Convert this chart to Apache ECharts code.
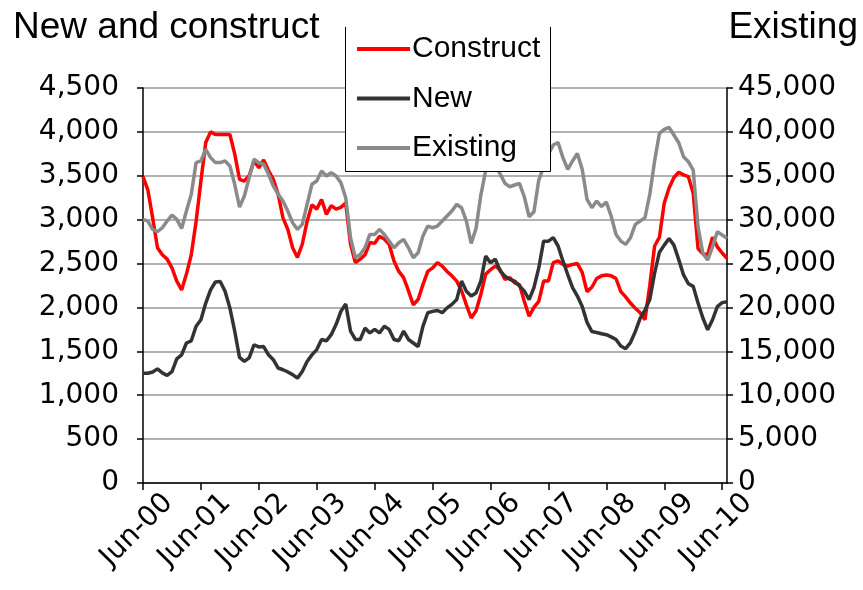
<!DOCTYPE html>
<html>
<head>
<meta charset="utf-8">
<script src="https://cdn.jsdelivr.net/npm/echarts@6/dist/echarts.min.js"></script>
<style>
  html, body { margin: 0; padding: 0; background: #fff; }
  #chart { width: 863px; height: 590px; }
</style>
</head>
<body>
<div id="chart"></div>
<script>
// monthly, Jun-00 .. Jul-10
const monthNames = ["Jun", "Jul", "Aug", "Sep", "Oct", "Nov", "Dec", "Jan", "Feb", "Mar", "Apr", "May"];
const startYear = 0;
const monthCount = 122;

const construct = [
  3490, 3340, 3020, 2680, 2600, 2550, 2450, 2300, 2200, 2380, 2600, 2980,
  3440, 3880, 4000, 3970, 3970, 3970, 3970, 3750, 3460, 3440, 3500, 3670,
  3590, 3680, 3560, 3460, 3290, 3020, 2890, 2680, 2570, 2720, 2980, 3170,
  3120, 3230, 3060, 3160, 3120, 3140, 3190, 2720, 2510, 2550, 2600, 2740,
  2730, 2810, 2780, 2720, 2530, 2410, 2340, 2190, 2030, 2090, 2260, 2410,
  2450, 2510, 2470, 2410, 2360, 2300, 2190, 2030, 1880, 1960, 2150, 2380,
  2430, 2470, 2430, 2320, 2340, 2280, 2260, 2070, 1900, 2000, 2070, 2300,
  2300, 2510, 2530, 2490, 2470, 2490, 2500, 2400, 2180, 2230, 2330, 2360,
  2370, 2360, 2330, 2180, 2120, 2050, 1990, 1940, 1860, 2250, 2700, 2800,
  3190, 3360, 3480, 3540, 3510, 3490, 3300, 2670, 2610, 2600, 2800, 2690,
  2620, 2560
];

const newHomes = [
  1250, 1250, 1265, 1300, 1255, 1225, 1270, 1415, 1460, 1595, 1620, 1785,
  1860, 2050, 2200, 2290, 2295, 2185, 1995, 1730, 1430, 1385, 1425, 1575,
  1550, 1555, 1460, 1405, 1310, 1290, 1265, 1235, 1195, 1270, 1385, 1460,
  1520, 1635, 1620, 1690, 1805, 1955, 2040, 1730, 1635, 1635, 1765, 1710,
  1750, 1710, 1785, 1750, 1635, 1620, 1730, 1635, 1595, 1555, 1785, 1940,
  1955, 1965, 1940, 1995, 2035, 2090, 2300, 2185, 2130, 2165, 2300, 2585,
  2510, 2550, 2415, 2355, 2320, 2300, 2245, 2185, 2090, 2225, 2450, 2755,
  2755, 2795, 2700, 2530, 2375, 2225, 2130, 2010, 1830, 1725, 1715, 1700,
  1690, 1665, 1635, 1560, 1530, 1600, 1725, 1875, 1970, 2090, 2390, 2630,
  2710, 2785, 2710, 2545, 2370, 2270, 2240, 2050, 1880, 1745, 1860, 2010,
  2055, 2065
];

const existing = [
  30030, 29840, 28890, 28620, 29080, 29840, 30530, 30030, 29000, 30980, 32880, 36500,
  36690, 38020, 37070, 36500, 36500, 36690, 36120, 34030, 31440, 32700, 34790, 36880,
  36500, 36310, 35170, 33840, 32880, 32120, 30980, 29650, 28890, 29460, 31740, 34030,
  34410, 35550, 34980, 35360, 34980, 34220, 32500, 27940, 25660, 26040, 26800, 28320,
  28320, 28890, 28320, 27560, 26800, 27370, 27750, 26800, 25660, 26230, 28130, 29270,
  29080, 29270, 29840, 30410, 30980, 31740, 31360, 29840, 27300, 29000, 32800, 35600,
  36500, 36200, 35200, 34130, 33750, 33950, 34130, 32610, 30330, 30900, 34510, 36000,
  37500, 38500, 38800, 37070, 35740, 36690, 37530, 35740, 32310, 31360, 32120, 31500,
  32000, 30410, 28320, 27560, 27180, 27940, 29460, 29840, 30220, 32880, 36690, 39830,
  40280, 40510, 39640, 38760, 37170, 36600, 35650, 29190, 26160, 25400, 26910, 28620,
  28250, 27870
];

const months = [];
for (let i = 0; i < monthCount; i++) {
  const yr = startYear + Math.floor((i + 5) / 12);
  months.push(monthNames[i % 12] + "-" + String(yr).padStart(2, "0"));
}

const FONT = "Liberation Sans, Arial, sans-serif";
const TICKFONT = "DejaVu Sans, sans-serif";
const withComma = v => String(v).replace(/\B(?=(\d{3})+(?!\d))/g, ",");
const everyYear = idx => idx % 12 === 0;

const chart = echarts.init(document.getElementById("chart"));

chart.setOption({
  animation: false,
  backgroundColor: "#fff",
  textStyle: { fontFamily: FONT },
  title: [
    { text: "New and construct", left: 8, top: 4,
      textStyle: { fontSize: 37, fontWeight: "normal", color: "#000", fontFamily: FONT } },
    { text: "Existing", right: 0, top: 4,
      textStyle: { fontSize: 37, fontWeight: "normal", color: "#000", fontFamily: FONT } }
  ],
  grid: { left: 143, right: 136, top: 88, bottom: 107, containLabel: false },
  legend: {
    orient: "vertical",
    left: 357,
    top: 34,
    icon: "rect",
    itemWidth: 53,
    itemHeight: 4,
    itemGap: 19.5,
    padding: 0,
    textStyle: { fontSize: 30, color: "#000", fontFamily: FONT, lineHeight: 30, padding: [0, 0, 0, -3] },
    data: ["Construct", "New", "Existing"],
    z: 10
  },
  graphic: [
    { type: "rect", z: 8, silent: true,
      shape: { x: 345, y: 20, width: 206, height: 152 },
      style: { fill: "#fff" } },
    { type: "polyline", z: 9, silent: true,
      shape: { points: [[345.5, 27], [345.5, 171.5], [550.5, 171.5], [550.5, 27]] },
      style: { stroke: "#000", lineWidth: 1, fill: null } }
  ],
  xAxis: {
    type: "category",
    data: months,
    boundaryGap: false,
    axisLine: { lineStyle: { color: "#000", width: 1.5 } },
    axisTick: { interval: everyYear, length: 7, lineStyle: { color: "#000", width: 1.5 } },
    axisLabel: {
      interval: everyYear, rotate: 45, margin: 41,
      padding: [0, -36, 0, 0],
      fontSize: 28, color: "#000", fontFamily: TICKFONT
    },
    splitLine: { show: false }
  },
  yAxis: [
    {
      type: "value", min: 0, max: 4500, interval: 500,
      axisLine: { show: true, lineStyle: { color: "#000", width: 1.5 } },
      axisTick: { show: true, length: 6, lineStyle: { color: "#000", width: 1.5 } },
      axisLabel: { fontSize: 28, color: "#000", margin: 24, fontFamily: TICKFONT, formatter: withComma },
      splitLine: { show: true, lineStyle: { color: "#999", width: 1.5 } }
    },
    {
      type: "value", min: 0, max: 45000, interval: 5000, position: "right",
      axisLine: { show: true, lineStyle: { color: "#000", width: 1.5 } },
      axisTick: { show: true, length: 6, lineStyle: { color: "#000", width: 1.5 } },
      axisLabel: { fontSize: 28, color: "#000", margin: 11, fontFamily: TICKFONT, formatter: withComma },
      splitLine: { show: false }
    }
  ],
  series: [
    { name: "Construct", type: "line", data: construct, yAxisIndex: 0,
      symbol: "none", lineStyle: { color: "#ff0000", width: 3.5 }, itemStyle: { color: "#ff0000" } },
    { name: "New", type: "line", data: newHomes, yAxisIndex: 0,
      symbol: "none", lineStyle: { color: "#333333", width: 3.5 }, itemStyle: { color: "#333333" } },
    { name: "Existing", type: "line", data: existing, yAxisIndex: 1,
      symbol: "none", lineStyle: { color: "#8a8a8a", width: 3.5 }, itemStyle: { color: "#8a8a8a" } }
  ]
});
</script>
</body>
</html>
